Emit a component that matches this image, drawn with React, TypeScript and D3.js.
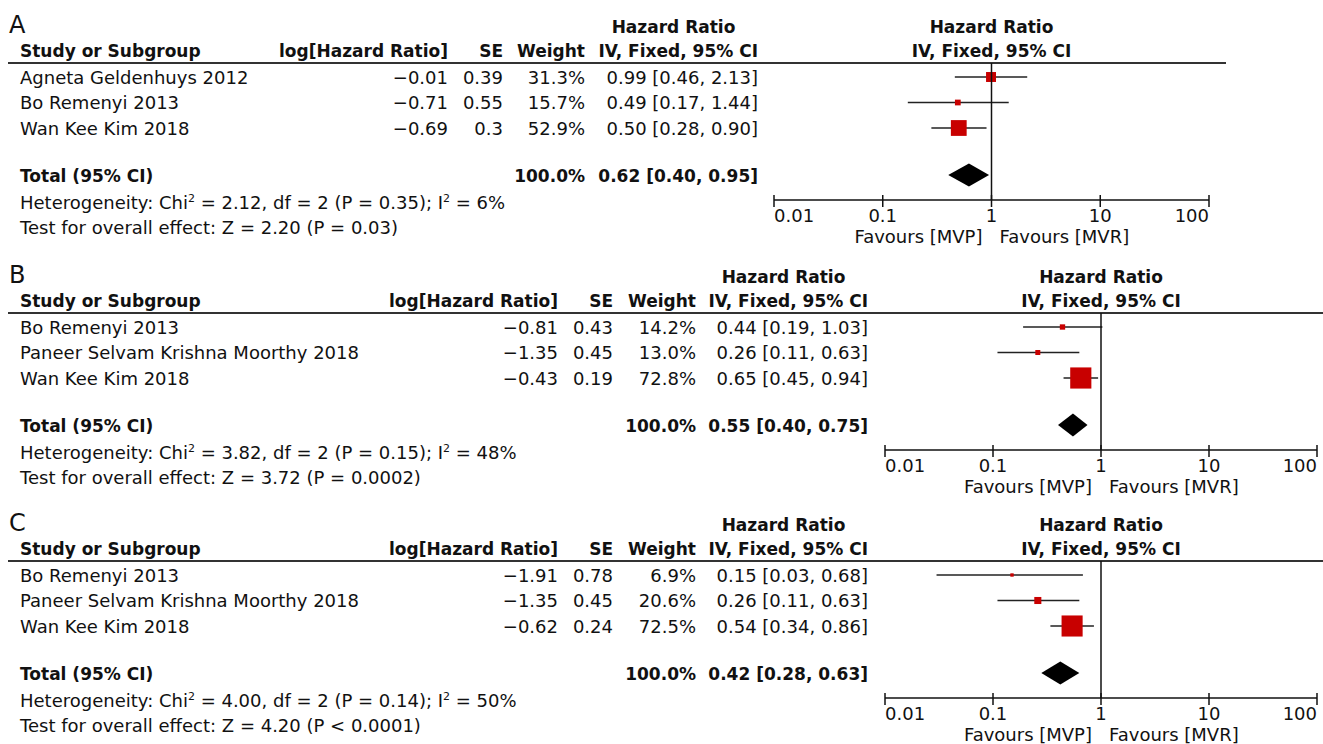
import React from "react";
import * as d3 from "d3";

// panel A
const studiesA = ["Agneta Geldenhuys 2012", "Bo Remenyi 2013", "Wan Kee Kim 2018"];
const logHrA = [-0.01, -0.71, -0.69];
const seA = ["0.39", "0.55", "0.3"];
const weightA = [31.3, 15.7, 52.9];
const hrA = [0.99, 0.49, 0.5];
const lowA = [0.46, 0.17, 0.28];
const highA = [2.13, 1.44, 0.9];
const totalA = [0.62, 0.4, 0.95];
const hetA = ["2.12", "2", "0.35", "6"];
const testA = ["2.20", "= 0.03"];

// panel B
const studiesB = ["Bo Remenyi 2013", "Paneer Selvam Krishna Moorthy 2018", "Wan Kee Kim 2018"];
const logHrB = [-0.81, -1.35, -0.43];
const seB = ["0.43", "0.45", "0.19"];
const weightB = [14.2, 13.0, 72.8];
const hrB = [0.44, 0.26, 0.65];
const lowB = [0.19, 0.11, 0.45];
const highB = [1.03, 0.63, 0.94];
const totalB = [0.55, 0.4, 0.75];
const hetB = ["3.82", "2", "0.15", "48"];
const testB = ["3.72", "= 0.0002"];

// panel C
const studiesC = ["Bo Remenyi 2013", "Paneer Selvam Krishna Moorthy 2018", "Wan Kee Kim 2018"];
const logHrC = [-1.91, -1.35, -0.62];
const seC = ["0.78", "0.45", "0.24"];
const weightC = [6.9, 20.6, 72.5];
const hrC = [0.15, 0.26, 0.54];
const lowC = [0.03, 0.11, 0.34];
const highC = [0.68, 0.63, 0.86];
const totalC = [0.42, 0.28, 0.63];
const hetC = ["4.00", "2", "0.14", "50"];
const testC = ["4.20", "< 0.0001"];

const tickValues = [0.01, 0.1, 1, 10, 100];
const tickLabels = ["0.01", "0.1", "1", "10", "100"];

const FONT = "'DejaVu Sans', sans-serif";
const RED = "#c80000";

const panels = [
  {
    label: "A", studies: studiesA, logHr: logHrA, se: seA, weight: weightA, hr: hrA, low: lowA, high: highA,
    total: totalA, het: hetA, test: testA,
    top: 0, colLog: 448, colSe: 503, colW: 585, colCi: 758, x0: 774, x1: 1209, lineEnd: 1226,
  },
  {
    label: "B", studies: studiesB, logHr: logHrB, se: seB, weight: weightB, hr: hrB, low: lowB, high: highB,
    total: totalB, het: hetB, test: testB,
    top: 250, colLog: 558, colSe: 613, colW: 696, colCi: 868, x0: 885, x1: 1317, lineEnd: 1323,
  },
  {
    label: "C", studies: studiesC, logHr: logHrC, se: seC, weight: weightC, hr: hrC, low: lowC, high: highC,
    total: totalC, het: hetC, test: testC,
    top: 498, colLog: 558, colSe: 613, colW: 696, colCi: 868, x0: 885, x1: 1317, lineEnd: 1323,
  },
];

const minus = (v: number) => String(v).replace("-", "\u2212");
const ci = (h: number, l: number, u: number) => `${h.toFixed(2)} [${l.toFixed(2)}, ${u.toFixed(2)}]`;

const Panel = ({ p }: { p: any }) => {
  const x = d3.scaleLog().domain([0.01, 100]).range([p.x0, p.x1]);
  const row = d3.scaleLinear().domain([0, 2]).range([77, 128]);
  const size = d3.scaleLinear().domain([0, 100]).range([1.5, 28.5]);
  const lineY = 63;
  const axisY = 200;
  const totalY = 175;
  const dy = 6.5;
  const x1 = x(1);
  const hrHeadX = p.colCi - 84.5;
  const [tHr, tLow, tHigh] = p.total;
  const [chi, df, pv, i2] = p.het;

  return (
    <g transform={`translate(0, ${p.top})`} fontFamily={FONT} fontSize={18} fill="#111">
      <text x={9} y={33} fontSize={24}>{p.label}</text>

      <g fontWeight="bold" fontSize={17}>
        <text x={hrHeadX} y={33} textAnchor="middle">Hazard Ratio</text>
        <text x={x1} y={33} textAnchor="middle">Hazard Ratio</text>
        <text x={20} y={57}>Study or Subgroup</text>
        <text x={p.colLog} y={57} textAnchor="end">log[Hazard Ratio]</text>
        <text x={p.colSe} y={57} textAnchor="end">SE</text>
        <text x={p.colW} y={57} textAnchor="end">Weight</text>
        <text x={p.colCi} y={57} textAnchor="end">IV, Fixed, 95% CI</text>
        <text x={x1} y={57} textAnchor="middle">IV, Fixed, 95% CI</text>
      </g>

      <line x1={8} x2={p.lineEnd} y1={lineY} y2={lineY} stroke="#333" strokeWidth={1.8} />

      {p.studies.map((s: string, i: number) => {
        const y = row(i);
        const sz = size(p.weight[i]);
        return (
          <g key={s}>
            <text x={20} y={y + dy}>{s}</text>
            <text x={p.colLog} y={y + dy} textAnchor="end">{minus(p.logHr[i])}</text>
            <text x={p.colSe} y={y + dy} textAnchor="end">{p.se[i]}</text>
            <text x={p.colW} y={y + dy} textAnchor="end">{p.weight[i].toFixed(1)}%</text>
            <text x={p.colCi} y={y + dy} textAnchor="end">{ci(p.hr[i], p.low[i], p.high[i])}</text>
            <line x1={x(p.low[i])} x2={x(p.high[i])} y1={y} y2={y} stroke="#222" strokeWidth={1.3} />
            <rect x={x(p.hr[i]) - sz / 2} y={y - sz / 2} width={sz} height={sz} fill={RED} />
          </g>
        );
      })}

      <g fontWeight="bold" fontSize={17}>
        <text x={20} y={totalY + dy}>Total (95% CI)</text>
        <text x={p.colW} y={totalY + dy} textAnchor="end">100.0%</text>
        <text x={p.colCi} y={totalY + dy} textAnchor="end">{ci(tHr, tLow, tHigh)}</text>
      </g>
      <path
        d={`M${x(tLow)},${totalY} L${x(tHr)},${totalY - 11.5} L${x(tHigh)},${totalY} L${x(tHr)},${totalY + 11.5} Z`}
        fill="#000"
      />

      <text x={20} y={209}>
        {`Heterogeneity: Chi`}
        <tspan fontSize={11} dy={-7}>2</tspan>
        <tspan dy={7}>{` = ${chi}, df = ${df} (P = ${pv}); I`}</tspan>
        <tspan fontSize={11} dy={-7}>2</tspan>
        <tspan dy={7}>{` = ${i2}%`}</tspan>
      </text>
      <text x={20} y={234}>{`Test for overall effect: Z = ${p.test[0]} (P ${p.test[1]})`}</text>

      <line x1={x1} x2={x1} y1={lineY} y2={axisY} stroke="#111" strokeWidth={1.5} />
      <line x1={p.x0} x2={p.x1} y1={axisY} y2={axisY} stroke="#111" strokeWidth={1.5} />
      {tickValues.map((t, i) => (
        <g key={t}>
          <line x1={x(t)} x2={x(t)} y1={axisY - 5} y2={axisY + 7} stroke="#111" strokeWidth={1.5} />
          <text
            x={x(t)}
            y={222}
            textAnchor={i === 0 ? "start" : i === tickValues.length - 1 ? "end" : "middle"}
          >
            {tickLabels[i]}
          </text>
        </g>
      ))}
      <text x={x1 - 9} y={243} textAnchor="end">Favours [MVP]</text>
      <text x={x1 + 8} y={243}>Favours [MVR]</text>
    </g>
  );
};

export default function App() {
  return (
    <svg
      width={1323}
      height={744}
      style={{ position: "absolute", left: 0, top: 0, background: "#fff" }}
    >
      <rect width={1323} height={744} fill="#fff" />
      {panels.map((p) => (
        <Panel key={p.label} p={p} />
      ))}
    </svg>
  );
}
